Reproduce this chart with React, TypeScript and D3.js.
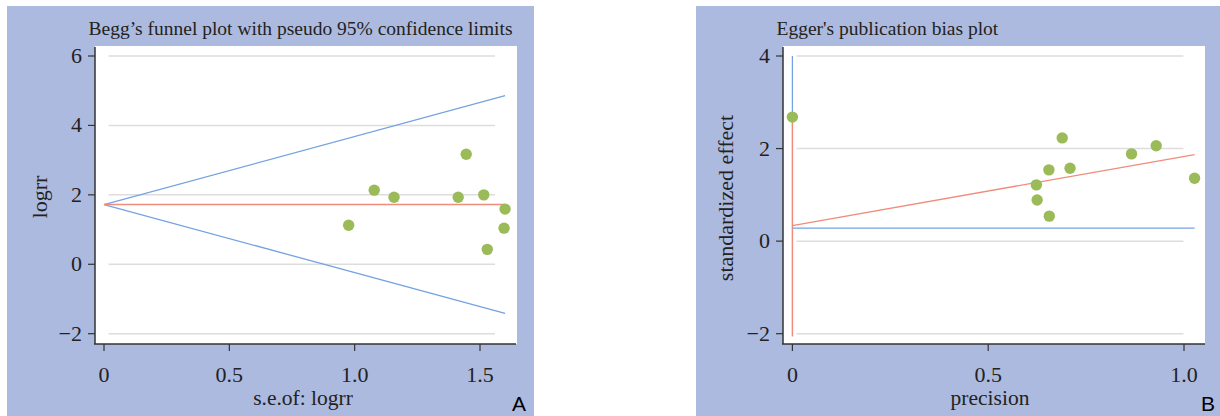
import React from "react";
import * as d3 from "d3";

// ---- Data ----
const beggSE = [0.976, 1.078, 1.157, 1.413, 1.445, 1.515, 1.6, 1.596, 1.529];
const beggLogRR = [1.125, 2.135, 1.93, 1.93, 3.17, 2.0, 1.59, 1.04, 0.43];
const beggPooled = 1.72;
const beggSEMax = 1.6;
const beggXTicks = [0, 0.5, 1.0, 1.5];
const beggYTicks = [-2, 0, 2, 4, 6];

const eggerPrecision = [0.0, 0.689, 0.929, 0.866, 0.655, 0.709, 0.623, 0.625, 0.656, 1.027];
const eggerStdEffect = [2.68, 2.23, 2.06, 1.885, 1.54, 1.575, 1.216, 0.89, 0.54, 1.36];
const eggerFit = [0.337, 1.87]; // at precision 0 and max
const eggerPrecMax = 1.027;
const eggerRef = 0.28;
const eggerCI = [-2.06, 2.68];
const eggerYTop = 4;
const eggerXTicks = [0, 0.5, 1.0];
const eggerYTicks = [-2, 0, 2, 4];

const BG = "#adbadf";
const BLUE = "#74a3e0";
const RED = "#ef8c7c";
const GREEN = "#9bbb59";
const GRID = "#dddddd";
const AXIS = "#333333";
const SERIF = "'Liberation Serif', 'Times New Roman', serif";

function fmt(v: number) {
  if (v === 0) return "0";
  if (v < 0) return "\u2212" + Math.abs(v);
  return String(v);
}

function fmtX(v: number) {
  return v === 0 ? "0" : v.toFixed(1);
}

export default function App() {
  // Left panel scales
  const xL = d3.scaleLinear().domain([0, 1.5]).range([104, 480]);
  const yL = d3.scaleLinear().domain([-2, 6]).range([333.7, 56]);
  // Right panel scales
  const xR = d3.scaleLinear().domain([0, 1]).range([792.4, 1184]);
  const yR = d3.scaleLinear().domain([-2, 4]).range([333.7, 56]);

  const line = d3.line<[number, number]>();

  const leftPlot = { x0: 95, x1: 517, y0: 46, y1: 344 };
  const rightPlot = { x0: 783, x1: 1205, y0: 46, y1: 344 };

  const upper: [number, number][] = [
    [xL(0), yL(beggPooled)],
    [xL(beggSEMax), yL(beggPooled + 1.96 * beggSEMax)],
  ];
  const lower: [number, number][] = [
    [xL(0), yL(beggPooled)],
    [xL(beggSEMax), yL(beggPooled - 1.96 * beggSEMax)],
  ];
  const pooledLine: [number, number][] = [
    [xL(0), yL(beggPooled)],
    [xL(beggSEMax), yL(beggPooled)],
  ];

  return (
    <svg
      width={1220}
      height={416}
      style={{ position: "absolute", left: 0, top: 0 }}
      fontFamily={SERIF}
    >
      <rect x={0} y={0} width={1220} height={416} fill="#ffffff" />
      {/* Panel A */}
      <rect x={7} y={6} width={527} height={410} fill={BG} />
      <rect
        x={leftPlot.x0}
        y={leftPlot.y0}
        width={leftPlot.x1 - leftPlot.x0}
        height={leftPlot.y1 - leftPlot.y0}
        fill="#ffffff"
      />
      <text x={300.5} y={35} fontSize={19.5} textAnchor="middle" fill="#222">
        Begg’s funnel plot with pseudo 95% confidence limits
      </text>
      {beggYTicks.map((t) => (
        <g key={"lg" + t}>
          <line x1={108.6} x2={495} y1={yL(t)} y2={yL(t)} stroke={GRID} strokeWidth={1.5} />
          <line x1={88} x2={95} y1={yL(t)} y2={yL(t)} stroke={AXIS} strokeWidth={1.2} />
          <text x={82} y={yL(t) + 7} fontSize={22} textAnchor="end" fill="#222">
            {fmt(t)}
          </text>
        </g>
      ))}
      {beggXTicks.map((t) => (
        <g key={"lx" + t}>
          <line x1={xL(t)} x2={xL(t)} y1={344} y2={351} stroke={AXIS} strokeWidth={1.2} />
          <text x={xL(t)} y={382} fontSize={22} textAnchor="middle" fill="#222">
            {fmtX(t)}
          </text>
        </g>
      ))}
      <line x1={95} x2={95} y1={47} y2={344} stroke={AXIS} strokeWidth={1.5} />
      <line x1={94} x2={516} y1={344} y2={344} stroke={AXIS} strokeWidth={1.5} />
      <path d={line(upper) || ""} stroke={BLUE} strokeWidth={1.3} fill="none" />
      <path d={line(lower) || ""} stroke={BLUE} strokeWidth={1.3} fill="none" />
      <path d={line(pooledLine) || ""} stroke={RED} strokeWidth={1.5} fill="none" />
      {beggSE.map((s, i) => (
        <circle key={"lp" + i} cx={xL(s)} cy={yL(beggLogRR[i])} r={5.7} fill={GREEN} />
      ))}
      <text
        transform={`translate(47,197) rotate(-90)`}
        fontSize={22}
        textAnchor="middle"
        fill="#222"
      >
        logrr
      </text>
      <text x={303} y={405} fontSize={21.5} textAnchor="middle" fill="#222">
        s.e.of: logrr
      </text>
      <text x={519} y={411} fontSize={21} textAnchor="middle" fill="#000" fontFamily="'Liberation Sans', Arial, sans-serif">
        A
      </text>

      {/* Panel B */}
      <rect x={696} y={6} width={524} height={410} fill={BG} />
      <rect
        x={rightPlot.x0}
        y={rightPlot.y0}
        width={rightPlot.x1 - rightPlot.x0}
        height={rightPlot.y1 - rightPlot.y0}
        fill="#ffffff"
      />
      <text x={776.5} y={35} fontSize={19.5} textAnchor="start" fill="#222">
        Egger's publication bias plot
      </text>
      {eggerYTicks.map((t) => (
        <g key={"rg" + t}>
          <line x1={796.5} x2={1183.4} y1={yR(t)} y2={yR(t)} stroke={GRID} strokeWidth={1.5} />
          <line x1={776} x2={783} y1={yR(t)} y2={yR(t)} stroke={AXIS} strokeWidth={1.2} />
          <text x={770} y={yR(t) + 7} fontSize={22} textAnchor="end" fill="#222">
            {fmt(t)}
          </text>
        </g>
      ))}
      {eggerXTicks.map((t) => (
        <g key={"rx" + t}>
          <line x1={xR(t)} x2={xR(t)} y1={344} y2={351} stroke={AXIS} strokeWidth={1.2} />
          <text x={xR(t)} y={382} fontSize={22} textAnchor="middle" fill="#222">
            {fmtX(t)}
          </text>
        </g>
      ))}
      <line x1={783} x2={783} y1={47} y2={344} stroke={AXIS} strokeWidth={1.5} />
      <line x1={782} x2={1205} y1={344} y2={344} stroke={AXIS} strokeWidth={1.5} />
      <line
        x1={xR(0)}
        x2={xR(0)}
        y1={yR(eggerYTop)}
        y2={yR(eggerCI[1])}
        stroke={BLUE}
        strokeWidth={1.3}
      />
      <line
        x1={xR(0)}
        x2={xR(0)}
        y1={yR(eggerCI[1])}
        y2={yR(eggerCI[0])}
        stroke={RED}
        strokeWidth={1.5}
      />
      <line
        x1={xR(0)}
        x2={xR(eggerPrecMax)}
        y1={yR(eggerRef)}
        y2={yR(eggerRef)}
        stroke={BLUE}
        strokeWidth={1.3}
      />
      <line
        x1={xR(0)}
        x2={xR(eggerPrecMax)}
        y1={yR(eggerFit[0])}
        y2={yR(eggerFit[1])}
        stroke={RED}
        strokeWidth={1.3}
      />
      {eggerPrecision.map((p, i) => (
        <circle key={"rp" + i} cx={xR(p)} cy={yR(eggerStdEffect[i])} r={5.7} fill={GREEN} />
      ))}
      <text
        transform={`translate(733,198) rotate(-90)`}
        fontSize={22}
        textAnchor="middle"
        fill="#222"
      >
        standardized effect
      </text>
      <text x={990} y={405} fontSize={21.5} textAnchor="middle" fill="#222">
        precision
      </text>
      <text x={1208} y={411} fontSize={21} textAnchor="middle" fill="#000" fontFamily="'Liberation Sans', Arial, sans-serif">
        B
      </text>
    </svg>
  );
}
